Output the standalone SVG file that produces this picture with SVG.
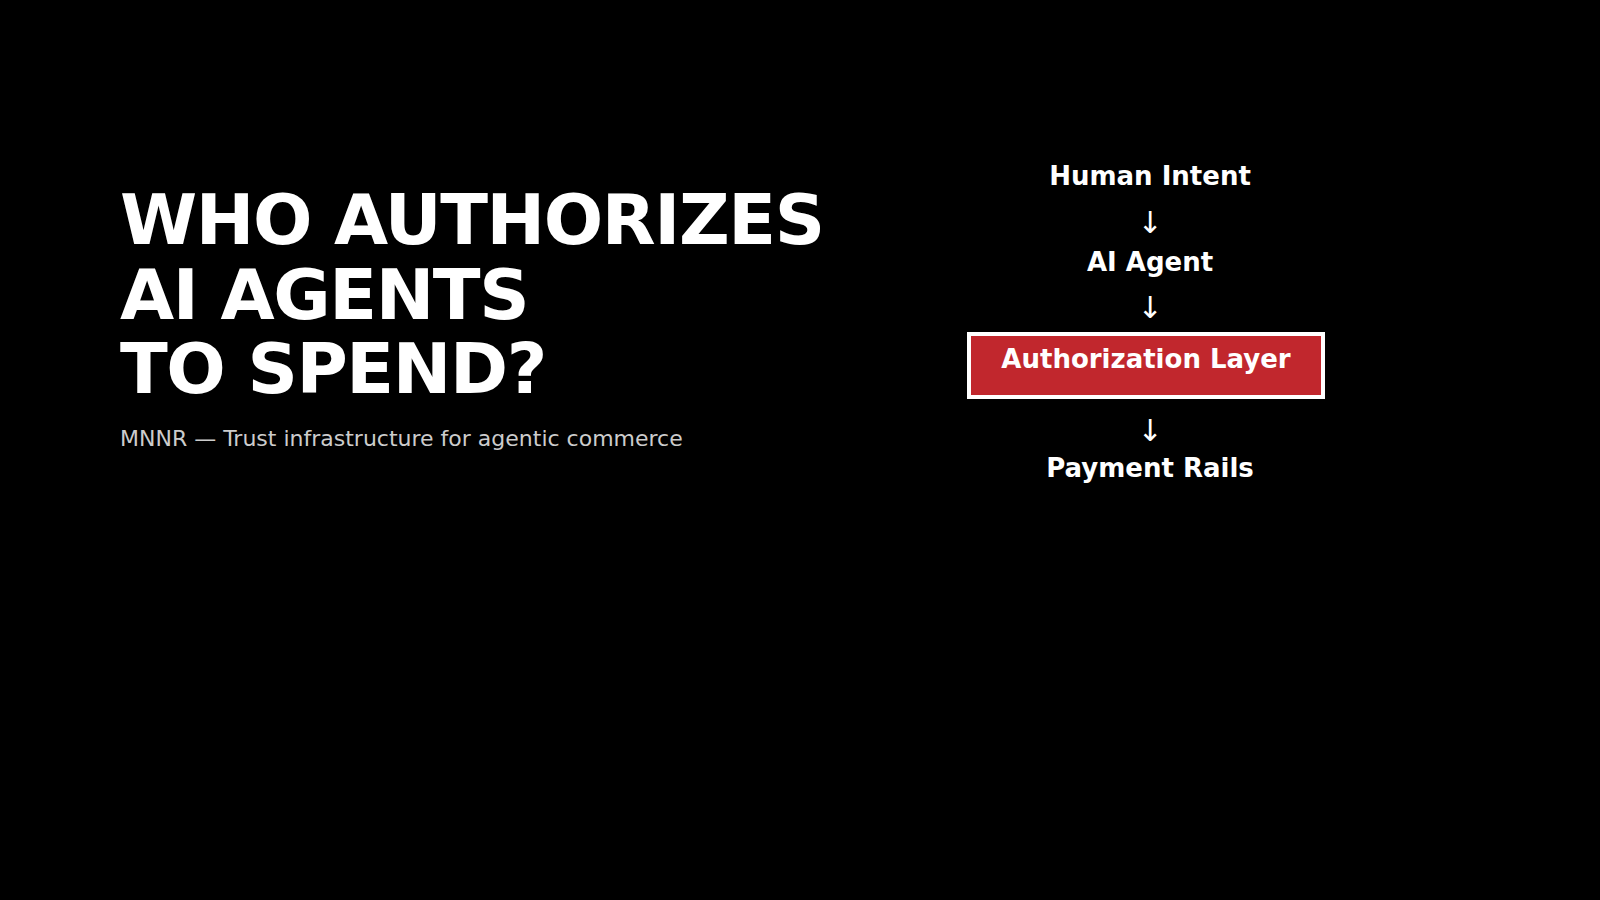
<svg xmlns="http://www.w3.org/2000/svg" width="1600" height="900" viewBox="0 0 1600 900">
<style>
.title{font-family:"DejaVu Sans","Liberation Sans",sans-serif;font-weight:bold;font-size:70px;letter-spacing:-1.4px;fill:#ffffff}
.sub{font-family:"DejaVu Sans","Liberation Sans",sans-serif;font-size:22px;fill:#cccccc}
.lbl{font-family:"DejaVu Sans","Liberation Sans",sans-serif;font-weight:bold;font-size:26px;fill:#ffffff;text-anchor:middle}
.arr{font-family:"DejaVu Sans","Liberation Sans",sans-serif;font-size:30px;fill:#ffffff;text-anchor:middle}
.box{fill:#c1272d;stroke:#ffffff;stroke-width:4}
</style>
<rect x="0" y="0" width="1600" height="900" fill="#000000"/>
<g id="heading">
<text class="title" x="120" y="244">WHO AUTHORIZES</text>
<text class="title" x="120" y="319">AI AGENTS</text>
<text class="title" x="120" y="393">TO SPEND?</text>
<text class="sub" x="120" y="446">MNNR — Trust infrastructure for agentic commerce</text>
</g>
<g id="node-human-intent">
<text class="lbl" x="1150" y="185">Human Intent</text>
</g>
<g id="node-ai-agent">
<text class="lbl" x="1150" y="271">AI Agent</text>
</g>
<g id="node-authorization-layer">
<rect class="box" x="969" y="334" width="354" height="63"/>
<text class="lbl" x="1146" y="368">Authorization Layer</text>
</g>
<g id="node-payment-rails">
<text class="lbl" x="1150" y="477">Payment Rails</text>
</g>
<g id="connectors">
<text class="arr" x="1150" y="233">↓</text>
<text class="arr" x="1150" y="318">↓</text>
<text class="arr" x="1150" y="441">↓</text>
</g>
</svg>
